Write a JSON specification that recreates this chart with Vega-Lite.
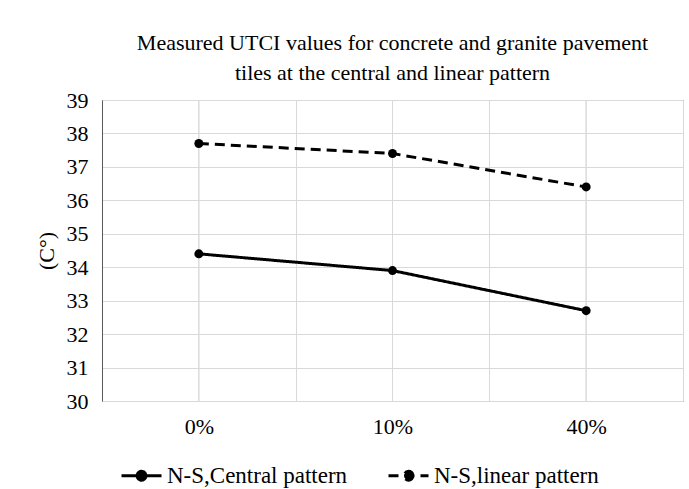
{
  "$schema": "https://vega.github.io/schema/vega-lite/v6.json",
  "width": 581,
  "height": 301,
  "autosize": {"type": "none"},
  "padding": {"left": 102, "top": 100, "right": 6, "bottom": 88},
  "background": "white",
  "config": {
    "view": {"stroke": "#595959", "strokeWidth": 1},
    "font": "Liberation Serif",
    "axis": {"labelFont": "Liberation Serif", "titleFont": "Liberation Serif"},
    "legend": {"labelFont": "Liberation Serif"},
    "title": {"font": "Liberation Serif"}
  },
  "title": {
    "text": ["Measured UTCI values for concrete  and granite  pavement", "tiles  at the central  and linear pattern"],
    "fontSize": 22,
    "fontWeight": "normal",
    "font": "Liberation Serif",
    "color": "#000000",
    "anchor": "middle",
    "lineHeight": 30,
    "offset": 4
  },
  "data": {
    "values": [
      {"pct": "0%", "series": "N-S,Central pattern", "value": 34.4},
      {"pct": "10%", "series": "N-S,Central pattern", "value": 33.9},
      {"pct": "40%", "series": "N-S,Central pattern", "value": 32.7},
      {"pct": "0%", "series": "N-S,linear pattern", "value": 37.7},
      {"pct": "10%", "series": "N-S,linear pattern", "value": 37.4},
      {"pct": "40%", "series": "N-S,linear pattern", "value": 36.4}
    ]
  },
  "encoding": {
    "x": {
      "field": "pct",
      "type": "ordinal",
      "sort": ["0%", "10%", "40%"],
      "scale": {"type": "band", "paddingInner": 0, "paddingOuter": 0},
      "axis": {
        "title": null,
        "labelFontSize": 22,
        "labelFont": "Liberation Serif",
        "labelColor": "#000000",
        "labelPadding": 15,
        "labelAngle": 0,
        "ticks": false,
        "domain": false,
        "grid": true,
        "gridColor": "#d9d9d9",
        "tickBand": "extent",
        "encode": {"labels": {"update": {"font": {"value": "Liberation Serif"}}}}
      }
    }
  },
  "layer": [
    {
      "mark": {"type": "rule", "color": "#d9d9d9", "strokeWidth": 1},
      "encoding": {}
    },
    {
      "mark": {
        "type": "line",
        "color": "black",
        "strokeWidth": 3,
        "point": {"filled": true, "size": 80, "color": "black"}
      },
      "encoding": {
        "y": {
          "field": "value",
          "type": "quantitative",
          "scale": {"domain": [30, 39], "nice": false, "zero": false},
          "axis": {
            "values": [30, 31, 32, 33, 34, 35, 36, 37, 38, 39],
            "title": "(C°)",
            "titleFontSize": 22,
            "titleFont": "Liberation Serif",
            "titleFontWeight": "normal",
            "titleColor": "#000000",
            "titlePadding": 8,
            "labelFontSize": 22,
            "labelFont": "Liberation Serif",
            "labelColor": "#000000",
            "labelPadding": 14,
            "ticks": false,
            "domain": true,
            "domainColor": "#595959",
            "grid": true,
            "gridColor": "#d9d9d9",
            "encode": {"labels": {"update": {"font": {"value": "Liberation Serif"}}}}
          }
        },
        "strokeDash": {
          "field": "series",
          "type": "nominal",
          "scale": {
            "domain": ["N-S,Central pattern", "N-S,linear pattern"],
            "range": [[1, 0], [10, 6]]
          },
          "legend": {
            "title": null,
            "orient": "none",
            "legendX": 18,
            "legendY": 354,
            "direction": "horizontal",
            "symbolType": "M-1,0H1M0.22,0A0.22,0.22,0,1,1,-0.22,0A0.22,0.22,0,1,1,0.22,0Z",
            "symbolSize": 1600,
            "symbolStrokeWidth": 3,
            "symbolStrokeColor": "black",
            "symbolFillColor": "black",
            "labelFontSize": 23,
            "labelFont": "Liberation Serif",
            "labelColor": "#000000",
            "labelOffset": 4,
            "labelLimit": 400,
            "columnPadding": 34,
            "encode": {
              "symbols": {
                "update": {
                  "stroke": {"value": "black"},
                  "strokeWidth": {"value": 3},
                  "fill": {"value": "black"}
                }
              },
              "labels": {
                "update": {"font": {"value": "Liberation Serif"}}
              }
            }
          }
        }
      }
    }
  ]
}
